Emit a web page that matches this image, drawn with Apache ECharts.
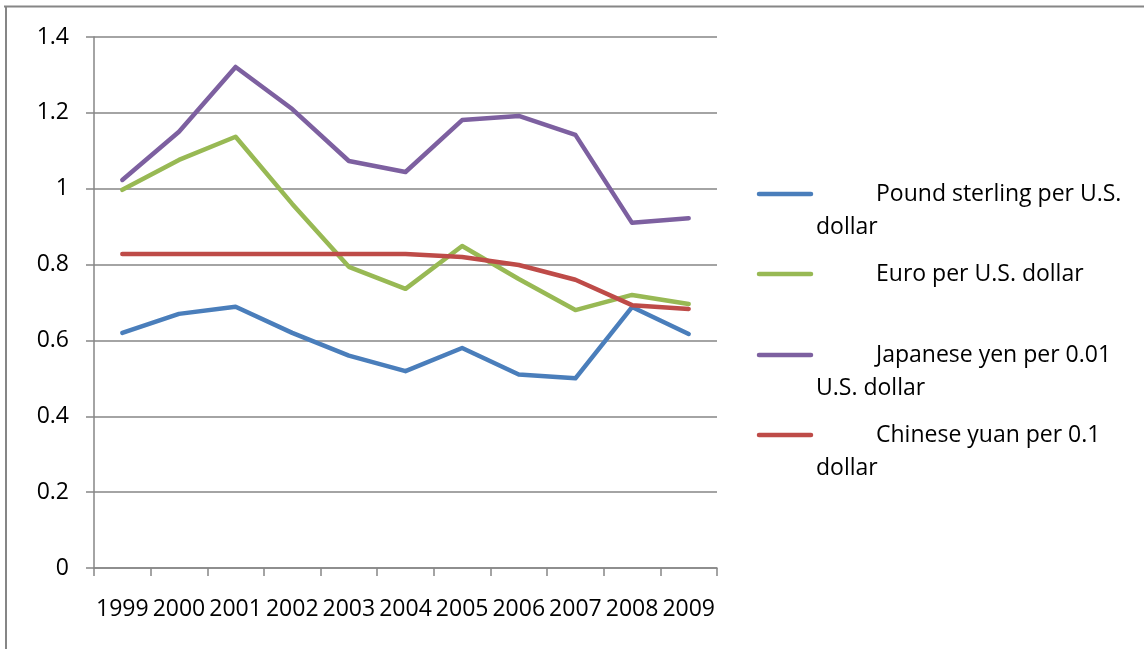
<!DOCTYPE html>
<html>
<head>
<meta charset="utf-8">
<script src="https://cdn.jsdelivr.net/npm/echarts@6/dist/echarts.min.js"></script>
<style>
html,body{margin:0;padding:0;background:#fff;}
#chart{width:1144px;height:649px;}
</style>
</head>
<body>
<div id="chart"></div>
<script>
const years = ['1999','2000','2001','2002','2003','2004','2005','2006','2007','2008','2009'];
const poundSterling = [0.62, 0.67, 0.689, 0.62, 0.56, 0.519, 0.58, 0.51, 0.50, 0.688, 0.617];
const euro = [0.997, 1.076, 1.137, 0.96, 0.794, 0.736, 0.849, 0.762, 0.68, 0.72, 0.696];
const japaneseYen = [1.023, 1.15, 1.321, 1.21, 1.073, 1.044, 1.181, 1.192, 1.142, 0.91, 0.922];
const chineseYuan = [0.828, 0.828, 0.828, 0.828, 0.828, 0.828, 0.82, 0.799, 0.76, 0.693, 0.683];
const seriesNames = ['Pound sterling per U.S. dollar', 'Euro per U.S. dollar', 'Japanese yen per 0.01 U.S. dollar', 'Chinese yuan per 0.1 dollar'];
const legendLines = [
  ['Pound sterling per U.S.', 'dollar'],
  ['Euro per U.S. dollar'],
  ['Japanese yen per 0.01', 'U.S. dollar'],
  ['Chinese yuan per 0.1', 'dollar']
];
const colors = ['#4A7EBB', '#98B954', '#7D60A0', '#BE4B48'];
const yTicks = {min: 0, max: 1.4, interval: 0.2};

const FONT = 'Open Sans';
const FS = 23;
const seriesData = [poundSterling, euro, japaneseYen, chineseYuan];

const legendY = [194, 274, 355, 435];
const graphics = [
  {type:'line', shape:{x1:4, y1:6.5, x2:1144, y2:6.5}, style:{stroke:'#868686', lineWidth:2}},
  {type:'line', shape:{x1:6, y1:6, x2:6, y2:649}, style:{stroke:'#868686', lineWidth:2}}
];
legendLines.forEach((lines, i) => {
  const y = legendY[i];
  graphics.push({type:'line', shape:{x1:759, y1:y, x2:811, y2:y}, style:{stroke:colors[i], lineWidth:4.5, lineCap:'round'}});
  graphics.push({type:'text', x:876, y:y, style:{text:lines[0], font:FS+'px "'+FONT+'"', fill:'#000', textVerticalAlign:'middle', verticalAlign:'middle'}});
  if (lines[1]) {
    graphics.push({type:'text', x:816, y:y+33, style:{text:lines[1], font:FS+'px "'+FONT+'"', fill:'#000', textVerticalAlign:'middle', verticalAlign:'middle'}});
  }
});

const chart = echarts.init(document.getElementById('chart'), null, {renderer:'canvas'});
chart.setOption({
  animation: false,
  backgroundColor: '#fff',
  grid: {left: 94, right: 427, top: 37, bottom: 81, containLabel: false},
  xAxis: {
    type: 'category',
    data: years,
    boundaryGap: true,
    axisLine: {lineStyle: {color: '#868686', width: 1.5}},
    axisTick: {show: true, length: 8, alignWithLabel: false, lineStyle: {color: '#868686', width: 1.5}},
    axisLabel: {color: '#000', fontSize: FS, fontFamily: FONT, margin: 30, interval: 0},
    splitLine: {show: false}
  },
  yAxis: {
    type: 'value',
    min: yTicks.min, max: yTicks.max, interval: yTicks.interval,
    axisLine: {show: true, lineStyle: {color: '#868686', width: 1.5}},
    axisTick: {show: true, length: 8, lineStyle: {color: '#868686', width: 1.5}},
    axisLabel: {color: '#000', fontSize: FS, fontFamily: FONT, margin: 25, formatter: v => String(Math.round(v*10)/10)},
    splitLine: {show: true, lineStyle: {color: '#868686', width: 1.5}}
  },
  series: seriesNames.map((name, i) => ({
    name: name,
    type: 'line',
    data: seriesData[i],
    symbol: 'none',
    lineStyle: {color: colors[i], width: 4.5, cap: 'round', join: 'round'},
    itemStyle: {color: colors[i]},
    z: 3 + i
  })),
  graphic: graphics
});
</script>
</body>
</html>
